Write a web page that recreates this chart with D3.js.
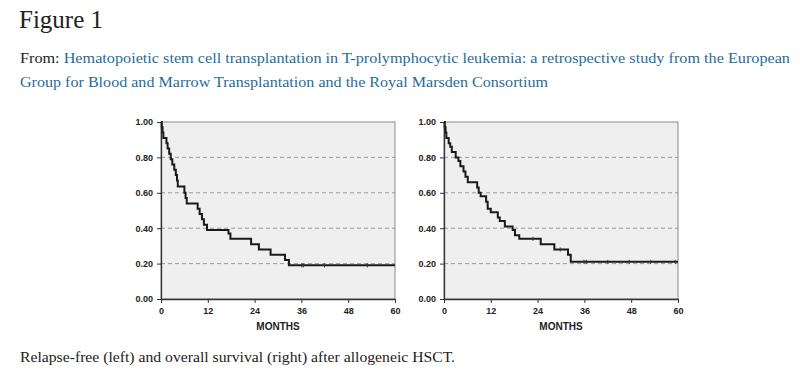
<!DOCTYPE html>
<html>
<head>
  <meta charset="utf-8">
  <title>Figure 1</title>
  <script src="https://d3js.org/d3.v7.min.js"></script>
  <style>
    body { margin: 0; background: #fff; }
  </style>
</head>
<body>
  <div id="chart"></div>
  <script>
    // Kaplan-Meier steps (months, survival probability)
    const leftTimes = [0, 0.2, 0.4, 0.6, 1.4, 1.7, 2.1, 2.5, 2.9, 3.4, 3.8, 4.1, 4.3, 6.0, 6.3, 6.6, 9.4, 9.9, 10.5, 11.0, 11.8, 17.3, 17.8, 23.1, 25.1, 28.1, 31.8, 32.8, 60];
    const leftSurv = [1.0, 0.97, 0.94, 0.91, 0.88, 0.85, 0.82, 0.79, 0.76, 0.73, 0.70, 0.67, 0.635, 0.60, 0.57, 0.54, 0.51, 0.48, 0.45, 0.42, 0.39, 0.37, 0.34, 0.31, 0.28, 0.25, 0.22, 0.19, 0.19];
    const leftCensored = [36.1, 36.5, 41.9, 52.9];

    const rightTimes = [0, 0.2, 0.4, 0.6, 1.2, 1.6, 2.0, 3.0, 3.7, 4.2, 5.0, 5.5, 6.1, 8.5, 8.9, 9.4, 10.8, 11.2, 12.0, 13.8, 14.3, 15.6, 17.6, 18.2, 19.3, 24.8, 28.3, 31.8, 32.5, 60];
    const rightSurv = [1.0, 0.97, 0.94, 0.91, 0.88, 0.86, 0.83, 0.80, 0.78, 0.75, 0.72, 0.69, 0.66, 0.63, 0.60, 0.58, 0.55, 0.51, 0.49, 0.46, 0.44, 0.41, 0.39, 0.36, 0.34, 0.31, 0.28, 0.25, 0.21, 0.21];
    const rightCensored = [22.8, 29.8, 35.9, 36.5, 42, 47.5, 53, 59.3];

    const xTicks = [0, 12, 24, 36, 48, 60];
    const yTicks = [0, 0.2, 0.4, 0.6, 0.8, 1.0];
    const gridTicks = [0.2, 0.4, 0.6, 0.8];

    const title = "Figure 1";
    const fromLines = [
      "Hematopoietic stem cell transplantation in T-prolymphocytic leukemia: a retrospective study from the European",
      "Group for Blood and Marrow Transplantation and the Royal Marsden Consortium"
    ];
    const caption = "Relapse-free (left) and overall survival (right) after allogeneic HSCT.";

    const W = 800, H = 371;
    const serif = "'Liberation Serif', 'DejaVu Serif', serif";
    const sans = "'Liberation Sans', Arial, sans-serif";
    const blue = "#1f6d9c";

    const svg = d3.select("#chart").append("svg")
      .attr("width", W).attr("height", H);

    svg.append("text")
      .attr("x", 19).attr("y", 28)
      .style("font-family", serif).style("font-size", "25px").attr("fill", "#222")
      .attr("textLength", 84).attr("lengthAdjust", "spacingAndGlyphs")
      .text(title);

    const l1 = svg.append("text")
      .attr("x", 20).attr("y", 63)
      .style("font-family", serif).style("font-size", "15px");
    l1.append("tspan").attr("fill", "#222").text("From: ");
    l1.append("tspan").attr("fill", blue).text(fromLines[0]);
    l1.attr("textLength", 770).attr("lengthAdjust", "spacingAndGlyphs");

    svg.append("text")
      .attr("x", 20).attr("y", 87)
      .style("font-family", serif).style("font-size", "15px").attr("fill", blue)
      .attr("textLength", 528).attr("lengthAdjust", "spacingAndGlyphs")
      .text(fromLines[1]);

    svg.append("text")
      .attr("x", 20).attr("y", 362)
      .style("font-family", serif).style("font-size", "15px").attr("fill", "#222")
      .attr("textLength", 435).attr("lengthAdjust", "spacingAndGlyphs")
      .text(caption);

    function panel(x0, times, surv, censored) {
      const w = 234, h = 177, y0 = 122;
      const g = svg.append("g").attr("transform", `translate(${x0},${y0})`);
      const x = d3.scaleLinear().domain([0, 60]).range([0, w]);
      const y = d3.scaleLinear().domain([0, 1]).range([h, 0]);

      g.append("rect")
        .attr("x", 0).attr("y", 0).attr("width", w).attr("height", h)
        .attr("fill", "#efefef").attr("stroke", "#8a8a8a").attr("stroke-width", 1);

      g.selectAll(".grid").data(gridTicks).enter().append("line")
        .attr("x1", 0).attr("x2", w)
        .attr("y1", d => y(d)).attr("y2", d => y(d))
        .attr("stroke", "#9a9a9a").attr("stroke-width", 1)
        .attr("stroke-dasharray", "4,3");

      const xAxis = g.append("g").attr("transform", `translate(0,${h})`)
        .call(d3.axisBottom(x).tickValues(xTicks).tickSize(4).tickSizeOuter(0).tickFormat(d3.format("d")));
      const yAxis = g.append("g")
        .call(d3.axisLeft(y).tickValues(yTicks).tickSize(4).tickSizeOuter(0).tickFormat(d3.format(".2f")));
      [xAxis, yAxis].forEach(a => {
        a.select(".domain").attr("stroke", "#333").attr("stroke-width", 1.3);
        a.selectAll(".tick line").attr("stroke", "#333");
        a.selectAll("text").style("font-family", sans).style("font-size", "9px")
          .style("font-weight", "bold").attr("fill", "#222");
      });
      xAxis.selectAll("text").attr("dy", "0.9em");
      yAxis.selectAll("text").attr("x", -8);

      g.append("text")
        .attr("x", w / 2).attr("y", h + 31)
        .attr("text-anchor", "middle")
        .style("font-family", sans).style("font-size", "10px").style("font-weight", "bold")
        .attr("fill", "#222")
        .text("MONTHS");

      const pts = times.map((t, i) => [t, surv[i]]);
      const line = d3.line().x(d => x(d[0])).y(d => y(d[1])).curve(d3.curveStepAfter);
      g.append("path").datum(pts)
        .attr("d", line)
        .attr("fill", "none").attr("stroke", "#1a1a1a").attr("stroke-width", 2);

      const survAt = t => {
        let v = surv[0];
        times.forEach((tt, i) => { if (tt <= t) v = surv[i]; });
        return v;
      };
      g.selectAll(".cens").data(censored).enter().append("line")
        .attr("x1", d => x(d)).attr("x2", d => x(d))
        .attr("y1", d => y(survAt(d)) - 2).attr("y2", d => y(survAt(d)) + 2)
        .attr("stroke", "#333").attr("stroke-width", 1);
    }

    panel(161, leftTimes, leftSurv, leftCensored);
    panel(444, rightTimes, rightSurv, rightCensored);
  </script>
</body>
</html>
